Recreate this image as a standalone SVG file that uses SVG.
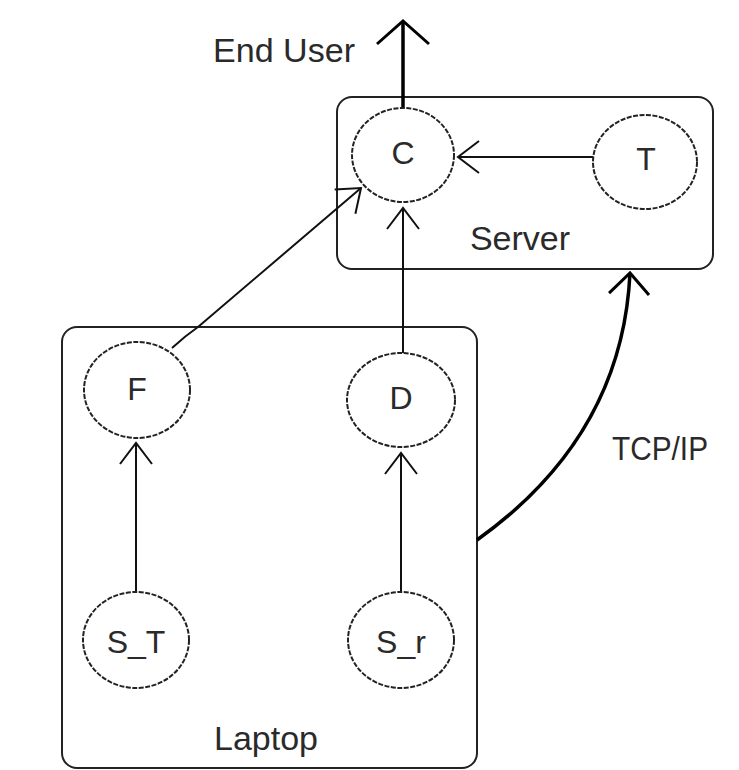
<svg xmlns="http://www.w3.org/2000/svg" width="739" height="770" viewBox="0 0 739 770">
<defs>
<style>
.box{fill:none;stroke:#222;stroke-width:2}
.node{fill:#fff;stroke:#222;stroke-width:2;stroke-dasharray:5 1.5}
.lbl{font-family:"Liberation Sans",Arial,sans-serif;fill:#2a2a2a;text-anchor:middle}
.big{font-size:34px}
.edge{fill:none;stroke:#111;stroke-width:2}
.thick{fill:none;stroke:#000;stroke-width:3.5}
</style>
<marker id="ah" markerUnits="userSpaceOnUse" orient="auto" overflow="visible" markerWidth="1" markerHeight="1" refX="0" refY="0">
<path d="M-21,-16 L0,0 L-21,16" fill="none" stroke="#111" stroke-width="2"/>
</marker>
<marker id="ahThick" markerUnits="userSpaceOnUse" orient="auto" overflow="visible" markerWidth="1" markerHeight="1" refX="0" refY="0">
<path d="M-23,-26 L0,0 L-23,26" fill="none" stroke="#000" stroke-width="3"/>
</marker>
<marker id="ahTcp" markerUnits="userSpaceOnUse" orient="auto" overflow="visible" markerWidth="1" markerHeight="1" refX="0" refY="0">
<path d="M-21,-20 L0,0 L-21,20" fill="none" stroke="#000" stroke-width="3"/>
</marker>
</defs>
<rect width="739" height="770" fill="#fff"/>

<g id="server">
<rect class="box" x="337" y="97" width="376" height="172" rx="15" ry="15"/>
<text class="lbl big" x="520" y="250">Server</text>
</g>
<g id="laptop">
<rect class="box" x="62" y="327" width="415" height="441" rx="15" ry="15"/>
<text class="lbl big" x="266" y="750">Laptop</text>
</g>

<g id="connectors">
<line class="thick" x1="403" y1="108" x2="403" y2="21" marker-end="url(#ahThick)"/>
<line class="edge" x1="593" y1="157" x2="458" y2="157" marker-end="url(#ah)"/>
<line class="edge" x1="403" y1="353" x2="403" y2="208" marker-end="url(#ah)"/>
<path class="edge" d="M172,348 Q185,336 198,327 L361,188" marker-end="url(#ah)"/>
<line class="edge" x1="136" y1="592" x2="136" y2="443" marker-end="url(#ah)"/>
<line class="edge" x1="401" y1="592" x2="401" y2="453" marker-end="url(#ah)"/>
<path class="thick" d="M477,540 C575,470 625,380 630,273" marker-end="url(#ahTcp)"/>
<text class="lbl big" x="660" y="460" textLength="96" lengthAdjust="spacingAndGlyphs">TCP/IP</text>
<text class="lbl big" x="284" y="62" textLength="142" lengthAdjust="spacingAndGlyphs">End User</text>
</g>

<g id="C">
<ellipse class="node" cx="403" cy="155" rx="51" ry="47"/>
<text class="lbl" font-size="32" x="403" y="164">C</text>
</g>
<g id="T">
<ellipse class="node" cx="645" cy="162" rx="52" ry="47"/>
<text class="lbl" font-size="32" x="646" y="170">T</text>
</g>
<g id="F">
<ellipse class="node" cx="137" cy="390" rx="53" ry="48"/>
<text class="lbl" font-size="32" x="137" y="400">F</text>
</g>
<g id="D">
<ellipse class="node" cx="401" cy="400" rx="54" ry="47"/>
<text class="lbl" font-size="32" x="401" y="409">D</text>
</g>
<g id="S_T">
<ellipse class="node" cx="136" cy="640" rx="53" ry="48"/>
<text class="lbl" font-size="32" x="136" y="653">S_T</text>
</g>
<g id="S_r">
<ellipse class="node" cx="401" cy="640" rx="53" ry="48"/>
<text class="lbl" font-size="32" x="401" y="653">S_r</text>
</g>
</svg>
